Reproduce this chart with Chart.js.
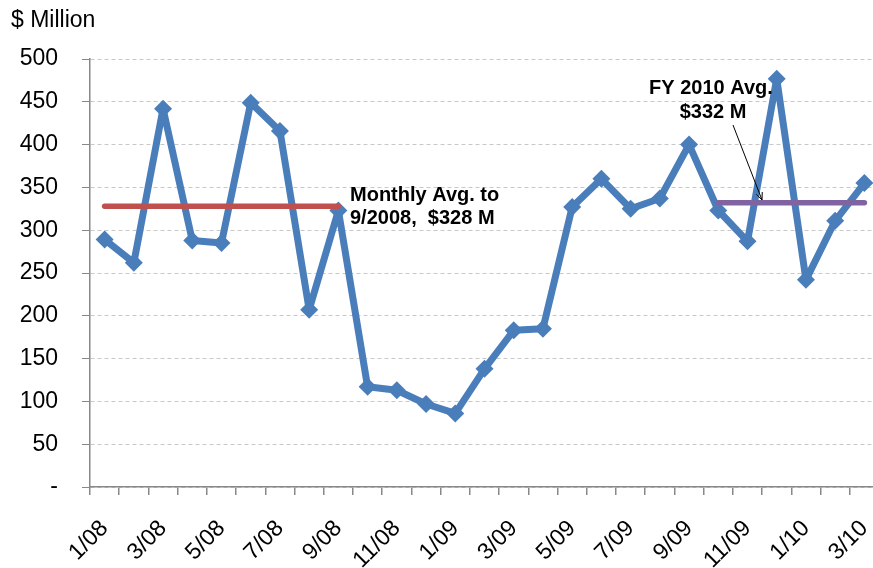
<!DOCTYPE html>
<html><head><meta charset="utf-8">
<script src="https://cdn.jsdelivr.net/npm/chart.js@4/dist/chart.umd.min.js"></script>
<style>
html,body{margin:0;padding:0;overflow:hidden;background:#fff;width:873px;height:568px}
#wrap{width:888px;height:568px;position:relative}
</style></head>
<body><div id="wrap"><canvas id="c" width="888" height="568"></canvas></div>
<script>
const months = ['1/08','2/08','3/08','4/08','5/08','6/08','7/08','8/08','9/08','10/08','11/08','12/08',
                '1/09','2/09','3/09','4/09','5/09','6/09','7/09','8/09','9/09','10/09','11/09','12/09',
                '1/10','2/10','3/10'];
const tickLabels = ['1/08','3/08','5/08','7/08','9/08','11/08','1/09','3/09','5/09','7/09','9/09','11/09','1/10','3/10'];
const monthlyValues = [289,262,442,288,285,449,416,207,323,117,113,97,86,138,183,185,327,360,325,337,400,323,287,477,242,311,355];
const avgTo2008 = [328,328,328,328,328,328,328,328,328,null,null,null,null,null,null,null,null,null,null,null,null,null,null,null,null,null,null];
const avgFY2010 = [null,null,null,null,null,null,null,null,null,null,null,null,null,null,null,null,null,null,null,null,null,332,332,332,332,332,332];
const yTickValues = [0,50,100,150,200,250,300,350,400,450,500];

const FONT = "'Liberation Sans', Arial, sans-serif";

const annotations = {
  id: 'annotations',
  afterDatasetsDraw(chart) {
    const ctx = chart.ctx;
    ctx.save();
    ctx.fillStyle = '#000';
    ctx.font = "23px " + FONT;
    ctx.textAlign = 'left';
    ctx.textBaseline = 'alphabetic';
    ctx.fillText('$ Million', 11, 27);

    ctx.font = "bold 20px " + FONT;
    ctx.textAlign = 'left';
    ctx.textBaseline = 'middle';
    ctx.fillText('Monthly Avg. to', 350, 195);
    ctx.fillText('9/2008,  $328 M', 350, 218);
    ctx.textAlign = 'center';
    ctx.fillText('FY 2010 Avg.', 711, 88);
    ctx.fillText('$332 M', 713, 112);

    // arrow
    const x1 = 733, y1 = 125, x2 = 762, y2 = 200;
    ctx.strokeStyle = '#000';
    ctx.lineWidth = 1;
    ctx.beginPath();
    ctx.moveTo(x1, y1); ctx.lineTo(x2, y2); ctx.stroke();
    const ang = Math.atan2(y2 - y1, x2 - x1);
    const h = 8;
    ctx.beginPath();
    ctx.moveTo(x2 - h * Math.cos(ang - 0.4), y2 - h * Math.sin(ang - 0.4));
    ctx.lineTo(x2, y2);
    ctx.lineTo(x2 - h * Math.cos(ang + 0.4), y2 - h * Math.sin(ang + 0.4));
    ctx.stroke();
    ctx.restore();
  }
};

new Chart(document.getElementById('c'), {
  type: 'line',
  data: {
    labels: months,
    datasets: [
      {
        data: avgTo2008, borderColor: '#C0504D', borderWidth: 5.5, pointRadius: 0,
        borderCapStyle: 'round', spanGaps: false, order: 0
      },
      {
        data: avgFY2010, borderColor: '#8064A2', borderWidth: 5.5, pointRadius: 0,
        borderCapStyle: 'round', spanGaps: false, order: 0
      },
      {
        data: monthlyValues, borderColor: '#4A7EBB', backgroundColor: '#4A7EBB', borderWidth: 7,
        borderJoinStyle: 'round',
        pointStyle: 'rectRot', pointRadius: 9, pointBorderWidth: 0, tension: 0, order: 2
      }
    ]
  },
  options: {
    responsive: false,
    animation: false,
    events: [],
    layout: { padding: { top: 59, left: 0, right: 0, bottom: 0 } },
    plugins: { legend: { display: false }, tooltip: { enabled: false }, title: { display: false } },
    scales: {
      x: {
        type: 'category',
        offset: true,
        grid: { offset: true, drawOnChartArea: false, drawTicks: true, tickLength: 8, color: '#888888', lineWidth: 1.5 },
        border: { display: true, color: '#888888', width: 1.5 },
        ticks: {
          autoSkip: false, maxRotation: 45, minRotation: 45, padding: 20,
          color: '#000', font: { family: FONT, size: 23 },
          callback: function(v, i) { const l = months[i]; return tickLabels.includes(l) ? l : ''; }
        },
        afterFit: function(s) { s.height = 81; s.paddingLeft = 0; s.paddingRight = 0; }
      },
      y: {
        min: 0, max: 500,
        afterBuildTicks: function(s) { s.ticks = yTickValues.map(v => ({ value: v })); },
        grid: { color: '#C8C8C8', tickBorderDash: [1, 0], tickColor: '#888888', tickLength: 8, lineWidth: 1 },
        border: { display: true, color: '#888888', width: 1.5, dash: [4, 3] },
        ticks: {
          padding: 24, color: '#000', font: { family: FONT, size: 23 },
          callback: function(v) { return v === 0 ? '-' : String(v); }
        },
        afterFit: function(s) { s.width = 90; }
      }
    }
  },
  plugins: [annotations]
});
</script>
</body></html>
